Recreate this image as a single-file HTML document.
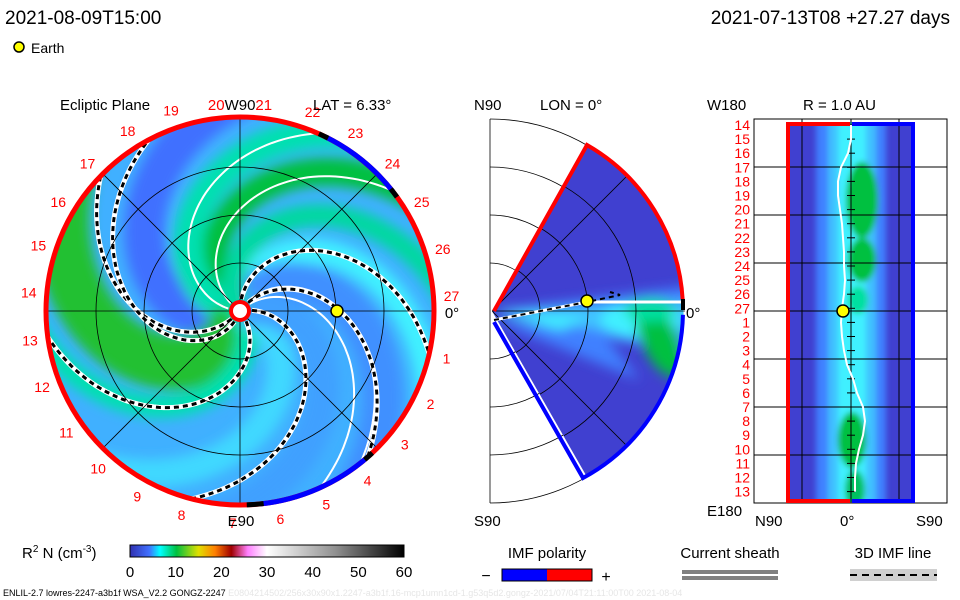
<!DOCTYPE html>
<html><head><meta charset="utf-8"><style>
body{margin:0;background:#fff;}
svg{display:block;font-family:"Liberation Sans",sans-serif;}
</style></head><body>
<svg id="chart" width="960" height="600" viewBox="0 0 960 600" xmlns="http://www.w3.org/2000/svg">
<defs>
<clipPath id="discClip"><circle cx="240" cy="311" r="194"/></clipPath>
<clipPath id="wedgeClip"><path d="M492,311 L587,145 A191,191 0 0 1 587,477 Z"/></clipPath>
<clipPath id="rectClip"><rect x="786" y="122" width="128" height="380"/></clipPath>
<filter id="blur6"><feGaussianBlur stdDeviation="6"/></filter>
<filter id="blur3"><feGaussianBlur stdDeviation="3"/></filter>
<linearGradient id="cbar" x1="0" x2="1" y1="0" y2="0">
<stop offset="0" stop-color="#3030b0"/><stop offset="0.07" stop-color="#4070ff"/><stop offset="0.11" stop-color="#00ffff"/>
<stop offset="0.17" stop-color="#00c040"/><stop offset="0.25" stop-color="#e0e000"/><stop offset="0.31" stop-color="#ff8000"/>
<stop offset="0.37" stop-color="#a00000"/><stop offset="0.43" stop-color="#ff80ff"/><stop offset="0.5" stop-color="#ffffff"/>
<stop offset="0.75" stop-color="#909090"/><stop offset="1" stop-color="#000000"/></linearGradient>
</defs>
<g id="header">
<text x="5" y="24" font-size="19">2021-08-09T15:00</text>
<text x="950" y="24" font-size="19" text-anchor="end">2021-07-13T08 +27.27 days</text>
<circle cx="19" cy="47" r="5" fill="#ffff00" stroke="#000" stroke-width="1.5"/>
<text x="31" y="53" font-size="14">Earth</text>
</g>
<g id="ecl"></g>
<g id="mer"></g>
<g id="lonlat"></g>
<g id="legend">
<text x="22" y="558" font-size="15">R<tspan font-size="10" dy="-6">2</tspan><tspan dy="6"> N (cm</tspan><tspan font-size="10" dy="-6">-3</tspan><tspan dy="6">)</tspan></text>
<rect x="130" y="545" width="274" height="12" fill="url(#cbar)" stroke="#000" stroke-width="1"/>
<g id="cbticks"></g>
<text x="547" y="558" font-size="15" text-anchor="middle">IMF polarity</text>
<text x="486" y="581" font-size="16" text-anchor="middle">−</text>
<rect x="502" y="569" width="45" height="12" fill="#0000ff"/>
<rect x="547" y="569" width="45" height="12" fill="#ff0000"/>
<rect x="502" y="569" width="90" height="12" fill="none" stroke="#000"/>
<text x="606" y="582" font-size="16" text-anchor="middle">+</text>
<text x="730" y="558" font-size="15" text-anchor="middle">Current sheath</text>
<rect x="682" y="570" width="96" height="4" fill="#808080"/>
<rect x="682" y="576" width="96" height="4" fill="#808080"/>
<text x="893" y="558" font-size="15" text-anchor="middle">3D IMF line</text>
<rect x="850" y="569" width="87" height="12" fill="#d0d0d0"/>
<line x1="850" y1="575" x2="937" y2="575" stroke="#000" stroke-width="2" stroke-dasharray="7,5"/>
<text x="3" y="596" font-size="9">ENLIL-2.7 lowres-2247-a3b1f WSA_V2.2 GONGZ-2247<tspan fill="#e6e6e6"> E0804214502/256x30x90x1.2247-a3b1f.16-mcp1umn1cd-1.g53q5d2.gongz-2021/07/04T21:11:00T00    2021-08-04</tspan></text>
</g>
</svg>
<script>
const NS="http://www.w3.org/2000/svg";
// ---- data ----
const dayLabels=[14,15,16,17,18,19,20,21,22,23,24,25,26,27,1,2,3,4,5,6,7,8,9,10,11,12,13];
const dayAnglesDeg=[175,162,149,136,122,109,96,83,70,57,44,31,17,4,-13,-26,-39,-53,-66,-79,-92,-106,-119,-132,-145,-159,-172];
const bandTheta0=[210,150,175,92,62,-95,-60,-15,20,120];
const bandColors=["#4070ff","#00c040","#00e0b0","#40f0ff","#4090ff","#20c030","#00e0b0","#40d8ff","#40a0ff","#00d8a0"];
const bandWidths=[40,28,30,26,40,55,22,28,34,22];
const sectorTheta0=[52,90,-52,10,-131,-110];
const sectorK=[0.52,0.53,0.62,0.59,0.48,0.68];
const whiteTheta0=[175,147,43,57];
const cbTicks=[0,10,20,30,40,50,60];
const neutralLineX=[0,0,-3,-10,-13,-13,-11,-9,-8,-7,-7,-6,-7,-9,-10,-9,-7,-4,2,6,12,14,12,8,5,4,4];
const earthR=1.0, earthLon=0;
// ---- helpers ----
const cx=240,cy=311,R=194,K=0.56;
function el(tag,attrs,parent){const e=document.createElementNS(NS,tag);for(const k in attrs)e.setAttribute(k,attrs[k]);parent.appendChild(e);return e;}
function spiralPath(t0,rmin,rmax,k){k=k||K;let d="";for(let r=rmin;r<=rmax;r+=3){const t=(t0-k*r)*Math.PI/180;const x=cx+r*Math.cos(t),y=cy-r*Math.sin(t);d+=(d?"L":"M")+x.toFixed(1)+","+y.toFixed(1);}return d;}
const ecl=document.getElementById('ecl');
const disc=el('g',{'clip-path':'url(#discClip)'},ecl);


el('circle',{cx:cx,cy:cy,r:R,fill:'#40b0ff'},disc);
const bands=el('g',{filter:'url(#blur6)'},disc);
bandTheta0.forEach((t0,i)=>{const p=el('path',{d:spiralPath(t0,0,260),fill:'none',stroke:bandColors[i],'stroke-width':bandWidths[i]},bands);

});
// grid
const grid=el('g',{stroke:'#000','stroke-width':0.8,fill:'none'},ecl);
[48,96,144].forEach(r=>el('circle',{cx:cx,cy:cy,r:r},grid));
for(let a=0;a<180;a+=45){const t=a*Math.PI/180;el('line',{x1:cx-R*Math.cos(t),y1:cy-R*Math.sin(t),x2:cx+R*Math.cos(t),y2:cy+R*Math.sin(t)},grid);}
// white field lines
whiteTheta0.forEach(t0=>{const p=el('path',{d:spiralPath(t0,12,200),fill:'none',stroke:'#fff','stroke-width':2},disc);

});
// sector boundaries
sectorTheta0.forEach((t0,i)=>{const g=el('g',{},disc);


el('path',{d:spiralPath(t0,12,200,sectorK[i]),fill:'none',stroke:'#fff','stroke-width':5},g);
el('path',{d:spiralPath(t0,12,200,sectorK[i]),fill:'none',stroke:'#000','stroke-width':3,'stroke-dasharray':'5,4'},g);});
// outer ring
function arc(a1,a2,r,col,w,name){const t1=a1*Math.PI/180,t2=a2*Math.PI/180;const large=Math.abs(a2-a1)>180?1:0;const sweep=a2<a1?1:0;
const p=el('path',{d:`M${cx+r*Math.cos(t1)},${cy-r*Math.sin(t1)} A${r},${r} 0 ${large} ${sweep} ${cx+r*Math.cos(t2)},${cy-r*Math.sin(t2)}`,fill:'none',stroke:col,'stroke-width':w},ecl);

}
el('circle',{cx:cx,cy:cy,r:R,fill:'none',stroke:'#ff0000','stroke-width':5},ecl);
arc(64,38,R,'#0000ff',5,'negative-polarity-arc');arc(66,63,R,'#000',5,'polarity-switch');arc(39,36,R,'#000',5,'polarity-switch');
arc(-49,-84,R,'#0000ff',5,'negative-polarity-arc');arc(-47,-50,R,'#000',5,'polarity-switch');arc(-83,-88,R,'#000',5,'polarity-switch');
el('circle',{cx:cx,cy:cy,r:9,fill:'#fff',stroke:'#ff0000','stroke-width':4},ecl);
// earth
const ex=cx+earthR*97*Math.cos(earthLon),ey=cy-earthR*97*Math.sin(earthLon);
const e1=el('circle',{cx:ex,cy:ey,r:6,fill:'#ffff00',stroke:'#000','stroke-width':1.5},ecl);


// day labels
dayLabels.forEach((d,i)=>{const t=dayAnglesDeg[i]*Math.PI/180;const x=cx+212*Math.cos(t),y=cy-212*Math.sin(t)+5;
if(d===20||d===21)return;
const tx=el('text',{x:x,y:y,'font-size':14,fill:'#ff0000','text-anchor':'middle'},ecl);tx.textContent=d;

});
const tt=el('text',{x:240,y:110,'font-size':15,'text-anchor':'middle'},ecl);


tt.innerHTML='<tspan fill="#ff0000">20</tspan>W90<tspan fill="#ff0000">21</tspan>';
[["Ecliptic Plane",60,110,'start','ecliptic-title'],["E90",241,526,'middle','e90-label'],["LAT = 6.33°",313,110,'start','lat-label'],["0°",452,318,'middle','zero-deg-label']].forEach(a=>{const t=el('text',{x:a[1],y:a[2],'font-size':15,'text-anchor':a[3]},ecl);t.textContent=a[0];

});
// ---- meridional ----
const mer=document.getElementById('mer');const mx=492,my=311;
const mgrid=el('g',{stroke:'#000','stroke-width':0.8,fill:'none'},mer);
el('line',{x1:490,y1:119,x2:490,y2:503},mgrid);
[48,96,144,192].forEach(r=>el('path',{d:`M490,${my-r} A${r},${r} 0 0 1 490,${my+r}`},mgrid));
const wg=el('g',{'clip-path':'url(#wedgeClip)'},mer);


el('rect',{x:480,y:130,width:220,height:360,fill:'#4040d0'},wg);
const wb=el('g',{filter:'url(#blur6)'},wg);
el('path',{d:'M492,311 L700,285 L700,360 Z',fill:'#4080ff'},wb);
el('path',{d:'M492,320 L590,360 L640,380 L600,330 Z',fill:'#4080ff'},wb);
el('path',{d:'M492,311 L700,300 L700,335 L600,330 Z',fill:'#40c0ff'},wb);
el('path',{d:'M492,311 L590,318 L560,330 Z',fill:'#40f0ff'},wb);
el('ellipse',{cx:640,cy:320,rx:40,ry:18,fill:'#40f0ff'},wb);
el('ellipse',{cx:660,cy:340,rx:18,ry:40,fill:'#00c040',transform:'rotate(-25 660 340)'},wb);
el('ellipse',{cx:650,cy:310,rx:25,ry:12,fill:'#00e0a0'},wb);
[48,96,144].forEach(r=>el('path',{d:`M${mx+r*0.5},${my-r*0.866} A${r},${r} 0 0 1 ${mx+r*0.5},${my+r*0.866}`,fill:'none',stroke:'#000','stroke-width':0.8},wg));
[45,-45].forEach(a=>{const t=a*Math.PI/180;el('line',{x1:mx,y1:my,x2:mx+200*Math.cos(t),y2:my-200*Math.sin(t),stroke:'#000','stroke-width':0.8},wg);});
el('line',{x1:mx,y1:my,x2:685,y2:my,stroke:'#000','stroke-width':0.8},mer);
el('path',{d:'M494,320 L587,302 L683,302',fill:'none',stroke:'#fff','stroke-width':3},mer);
el('path',{d:'M494,320 L587,302 L620,295 L610,292',fill:'none',stroke:'#000','stroke-width':2,'stroke-dasharray':'5,4'},mer);
el('path',{d:`M494,311 L587,145 A191,191 0 0 1 ${mx+191*Math.cos(0.06)},${my-191*Math.sin(0.06)}`,fill:'none',stroke:'#ff0000','stroke-width':4},mer);
el('path',{d:`M${mx+191*Math.cos(-0.02)},${my-191*Math.sin(-0.02)} A191,191 0 0 1 583,478 L494,322`,fill:'none',stroke:'#0000ff','stroke-width':4},mer);
el('line',{x1:683,y1:299,x2:683,y2:310,stroke:'#000','stroke-width':4},mer);
const e2=el('circle',{cx:587,cy:301,r:6,fill:'#ffff00',stroke:'#000','stroke-width':1.5},mer);


[["N90",474,110,'n90-label'],["LON = 0°",540,110,'lon-label'],["S90",474,526,'s90-label'],["0°",686,318,'mer-zero-label']].forEach(a=>{const t=el('text',{x:a[1],y:a[2],'font-size':15},mer);t.textContent=a[0];

});
// ---- lon-lat panel ----
const ll=document.getElementById('lonlat');
el('rect',{x:754,y:119,width:193,height:384,fill:'none',stroke:'#000','stroke-width':1},ll);
const rg=el('g',{'clip-path':'url(#rectClip)'},ll);


el('rect',{x:786,y:122,width:128,height:380,fill:'#4040d0'},rg);
const rb=el('g',{filter:'url(#blur3)'},rg);
el('rect',{x:816,y:110,width:70,height:400,fill:'#4080ff'},rb);
el('rect',{x:828,y:110,width:48,height:400,fill:'#40c0ff'},rb);
el('rect',{x:838,y:110,width:28,height:400,fill:'#40f0ff'},rb);
[[862,200,16,38,'#00c040'],[862,260,14,22,'#00c040'],[858,300,10,14,'#00e0a0'],[852,440,14,28,'#00c040'],[855,490,10,20,'#00c060']].forEach(b=>el('ellipse',{cx:b[0],cy:b[1],rx:b[2],ry:b[3],fill:b[4]},rb));
const yStep=14.1,y0=125;
for(let i=0;i<27;i++){el('line',{x1:847,y1:y0+i*yStep,x2:855,y2:y0+i*yStep,stroke:'#000','stroke-width':1},ll);}
[167,215,263,311,359,407,455].forEach(y=>el('line',{x1:754,y1:y,x2:947,y2:y,stroke:'#000','stroke-width':1},ll));
[802,851,899].forEach(x=>el('line',{x1:x,y1:119,x2:x,y2:503,stroke:'#000','stroke-width':1},ll));
let nd="";neutralLineX.forEach((v,i)=>{nd+=(i?"L":"M")+(851+v)+","+(y0+i*yStep).toFixed(1);});
const nl=el('path',{d:nd,fill:'none',stroke:'#fff','stroke-width':2},ll);


el('path',{d:'M850,124 L788,124 L788,501 L850,501',fill:'none',stroke:'#ff0000','stroke-width':4},ll);
el('path',{d:'M852,124 L913,124 L913,501 L852,501',fill:'none',stroke:'#0000ff','stroke-width':4},ll);
dayLabels.forEach((d,i)=>{const t=el('text',{x:750,y:y0+i*yStep+5,'font-size':14,fill:'#ff0000','text-anchor':'end'},ll);t.textContent=d;

});
const e3=el('circle',{cx:843,cy:311,r:6,fill:'#ffff00',stroke:'#000','stroke-width':1.5},ll);


[["W180",707,110,'w180-label'],["R = 1.0 AU",803,110,'radius-label'],["E180",707,516,'e180-label'],["N90",755,526,'lonlat-n90-label'],["0°",840,526,'lonlat-zero-label'],["S90",916,526,'lonlat-s90-label']].forEach(a=>{const t=el('text',{x:a[1],y:a[2],'font-size':15},ll);t.textContent=a[0];

});
// colorbar ticks
const cbt=document.getElementById('cbticks');
cbTicks.forEach(v=>{const x=130+v/60*274;const t=el('text',{x:x,y:577,'font-size':15,'text-anchor':'middle'},cbt);t.textContent=v;

});
</script>
</body></html>
